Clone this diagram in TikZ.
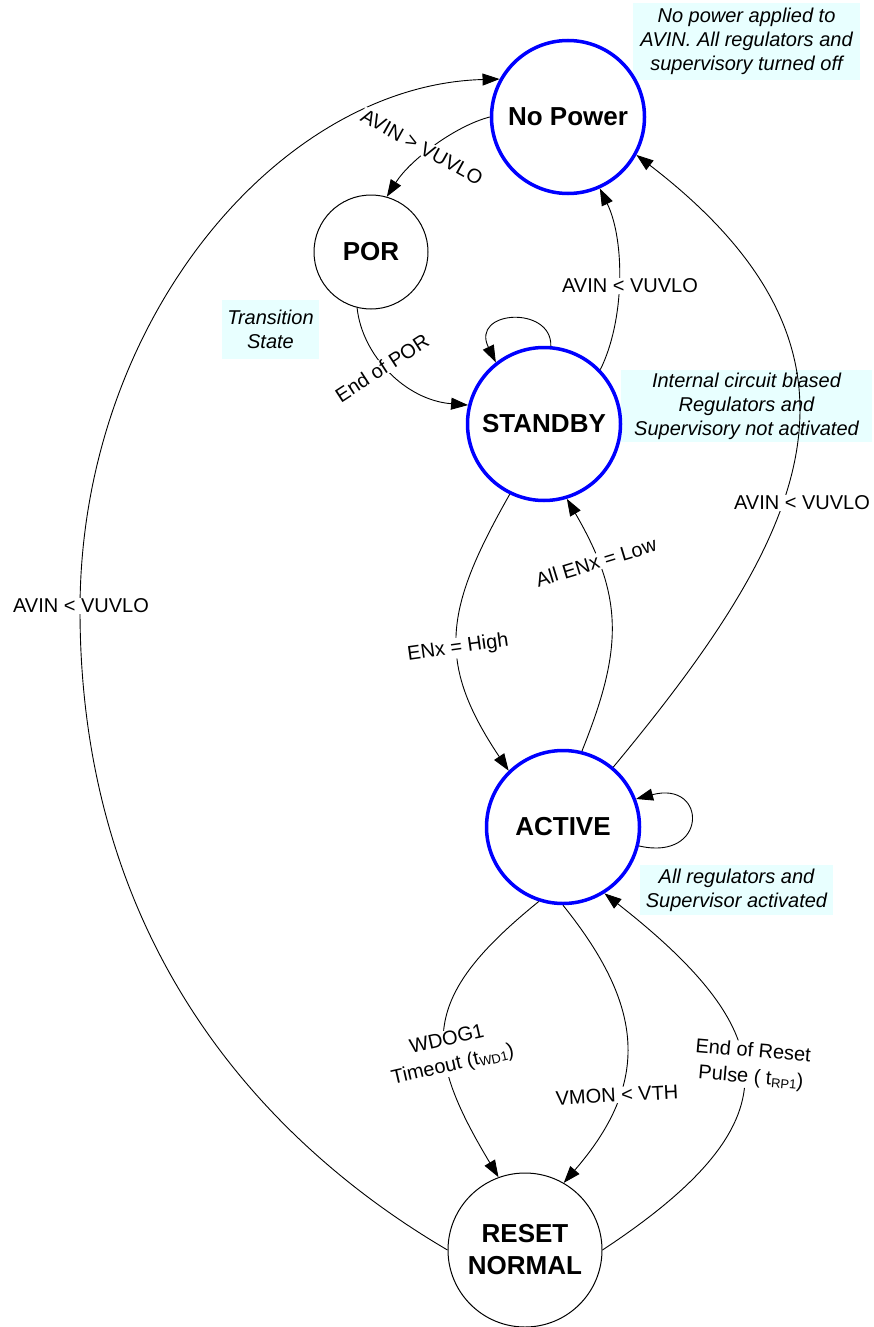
\documentclass[tikz,border=0pt]{standalone}
\usepackage{fontspec}
\setmainfont{Liberation Sans}
\usetikzlibrary{arrows.meta}
\definecolor{notefill}{RGB}{232,255,255}
\definecolor{stblue}{RGB}{0,0,255}
\newcommand\lowsub[1]{\raisebox{-2.5pt}{\fontsize{13}{13}\selectfont #1}}
\begin{document}
\begin{tikzpicture}[x=1pt,y=-1pt,
  state/.style={circle, draw, line width=1pt, minimum size=114pt, inner sep=0pt, align=center,
                font=\fontsize{26}{32}\selectfont\bfseries},
  bstate/.style={state, draw=stblue, line width=3.5pt, minimum size=153pt},
  note/.style={fill=notefill, inner sep=0pt, align=center, font=\fontsize{20}{24}\selectfont\itshape},
  lbl/.style={fill=white, inner sep=1pt, align=center, font=\fontsize{20}{24}\selectfont},
  lbltwo/.style={lbl, font=\fontsize{20}{26}\selectfont},
  edge/.style={line width=0.9pt, -{Triangle[length=17pt,width=12pt]}}
]
\useasboundingbox (0,0) rectangle (873,1327);

% notes (drawn first, connectors pass over them)
\node[note, minimum width=227pt, minimum height=77pt] (n1) at (746.5,41.5)
  {No power applied to\\AVIN. All regulators and\\supervisory turned off};
\node[note, minimum width=97pt, minimum height=59pt] (n2) at (270.5,329.5)
  {Transition\\State};
\node[note, minimum width=251pt, minimum height=72pt] (n3) at (746.5,406)
  {Internal circuit biased\\Regulators and\\Supervisory not activated};
\node[note, minimum width=193pt, minimum height=50pt] (n4) at (736.5,890)
  {All regulators and\\Supervisor activated};

% states
\node[bstate] (np) at (568,117) {No Power};
\node[state] (por) at (371,252) {POR};
\node[bstate] (sb) at (544,424) {STANDBY};
\node[bstate] (act) at (563,827) {ACTIVE};
\node[state, minimum size=154pt] (rn) at (525,1250) {RESET\\NORMAL};

% connectors
\draw[edge] (np.180) .. controls (455,126) and (410,160) .. (por.74);
\draw[edge] (rn.180) .. controls (260,1140) and (80,940) .. (80,610)
                     .. controls (80,320) and (280,85) .. (np.151);
\draw[edge] (por.256) .. controls (362,355) and (405,400) .. (sb.166);
\draw[edge] (sb.85) .. controls (552,305) and (470,310) .. (sb.128);
\draw[edge] (sb.44) .. controls (625,320) and (625,240) .. (np.294);
\draw[edge] (act.50) .. controls (805,536) and (898,356) .. (np.331);
\draw[edge] (sb.244) .. controls (444,610) and (436,662) .. (act.134);
\draw[edge] (act.76) .. controls (623,649) and (624,597) .. (sb.287);
\draw[edge] (act.346) .. controls (708,862) and (708,780) .. (act.21);
\draw[edge] (act.252) .. controls (421,997) and (421,1048) .. (rn.110);
\draw[edge] (act.270) .. controls (644,1006) and (651,1082) .. (rn.60);
\draw[edge] (rn.0) .. controls (795,1123) and (785,1035) .. (act.302);

% connector labels
\node[lbl, rotate=-29] (l1) at (422,147) {AVIN > VUVLO};
\node[lbl] (l2) at (81,606) {AVIN < VUVLO};
\node[lbl, rotate=33] (l3) at (382,368) {End of POR};
\node[lbl] (l4) at (630,286) {AVIN < VUVLO};
\node[lbl] (l5) at (802,503) {AVIN < VUVLO};
\node[lbl, rotate=8] (l6) at (458,648) {ENx = High};
\node[lbl, rotate=17] (l7) at (596,562) {All ENx = Low};
\node[lbltwo, rotate=13] (l8) at (450,1053) {WDOG1\\Timeout (t\lowsub{WD1})};
\node[lbl, rotate=3] (l9) at (617,1095) {VMON < VTH};
\node[lbltwo, rotate=-5] (l10) at (752,1065) {End of Reset\\Pulse ( t\lowsub{RP1})};
\end{tikzpicture}
\end{document}
